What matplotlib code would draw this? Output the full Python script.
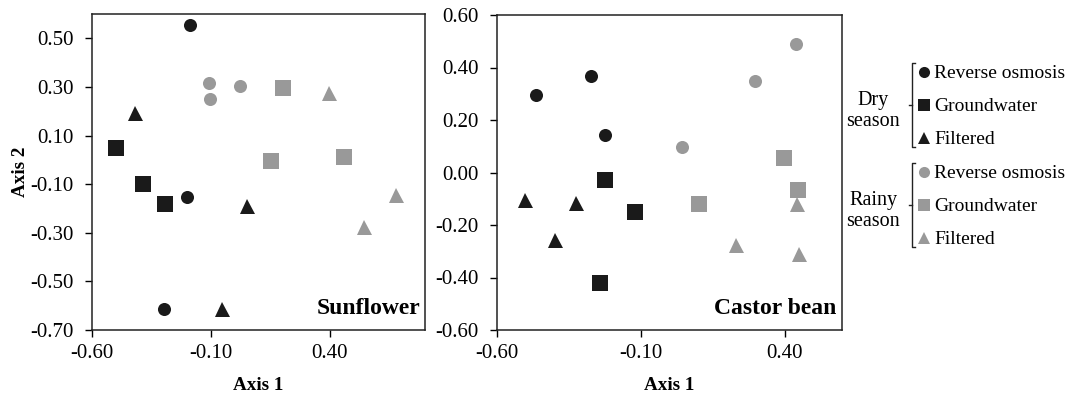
import matplotlib
matplotlib.use("Agg")
import matplotlib.pyplot as plt
from matplotlib.ticker import FormatStrFormatter

plt.rcParams['font.family'] = ['Liberation Serif', 'DejaVu Serif']

DARK = '#1a1a1a'
GREY = '#999999'

# Sunflower scores (Axis 1, Axis 2)
sun_dry_ro_x = [-0.187, -0.201, -0.297]
sun_dry_ro_y = [0.555, -0.154, -0.612]
sun_dry_gw_x = [-0.498, -0.386, -0.294]
sun_dry_gw_y = [0.047, -0.099, -0.182]
sun_dry_fi_x = [-0.421, 0.050, -0.053]
sun_dry_fi_y = [0.191, -0.189, -0.615]
sun_rain_ro_x = [-0.108, -0.105, 0.024]
sun_rain_ro_y = [0.318, 0.252, 0.305]
sun_rain_gw_x = [0.204, 0.151, 0.459]
sun_rain_gw_y = [0.296, -0.005, 0.013]
sun_rain_fi_x = [0.397, 0.677, 0.545]
sun_rain_fi_y = [0.276, -0.145, -0.275]

# Castor bean scores
cas_dry_ro_x = [-0.466, -0.272, -0.223]
cas_dry_ro_y = [0.297, 0.368, 0.142]
cas_dry_gw_x = [-0.225, -0.120, -0.242]
cas_dry_gw_y = [-0.027, -0.150, -0.422]
cas_dry_fi_x = [-0.501, -0.324, -0.399]
cas_dry_fi_y = [-0.106, -0.116, -0.256]
cas_rain_ro_x = [0.042, 0.298, 0.440]
cas_rain_ro_y = [0.099, 0.347, 0.488]
cas_rain_gw_x = [0.104, 0.398, 0.446]
cas_rain_gw_y = [-0.121, 0.054, -0.065]
cas_rain_fi_x = [0.232, 0.445, 0.452]
cas_rain_fi_y = [-0.275, -0.119, -0.309]

sun_xticks = [-0.60, -0.10, 0.40]
sun_yticks = [-0.70, -0.50, -0.30, -0.10, 0.10, 0.30, 0.50]
cas_xticks = [-0.60, -0.10, 0.40]
cas_yticks = [-0.60, -0.40, -0.20, 0.00, 0.20, 0.40, 0.60]

treatments = ['Reverse osmosis', 'Groundwater', 'Filtered']
markers = ['o', 's', '^']
sizes = [9.4, 11.5, 10.8]

fig = plt.figure(figsize=(10.7, 3.94), dpi=100)
ax1 = fig.add_axes([92/1070, 64/394, 333/1070, 316/394])
ax2 = fig.add_axes([497/1070, 64/394, 345/1070, 315/394])


def draw(ax, groups, xlim, ylim, xt, yt, name):
    for (x, y), m, s, c in groups:
        ax.plot(x, y, ls='none', marker=m, ms=s, color=c, mec=c, mew=0)
    ax.set_xlim(xlim)
    ax.set_ylim(ylim)
    ax.set_xticks(xt)
    ax.set_yticks(yt)
    ax.xaxis.set_major_formatter(FormatStrFormatter('%.2f'))
    ax.yaxis.set_major_formatter(FormatStrFormatter('%.2f'))
    ax.tick_params(direction='out', length=5, width=1, labelsize=15)
    ax.tick_params(axis='y', pad=8)
    ax.tick_params(axis='x', pad=5)
    for sp in ax.spines.values():
        sp.set_linewidth(1.1)
        sp.set_color('#222222')
    ax.set_xlabel('Axis 1', fontsize=13.8, fontweight='bold', labelpad=10)
    ax.text(0.985, 0.035, name, transform=ax.transAxes, ha='right', va='bottom',
            fontsize=17, fontweight='bold')


sun_groups = [
    ((sun_dry_ro_x, sun_dry_ro_y), 'o', sizes[0], DARK),
    ((sun_dry_gw_x, sun_dry_gw_y), 's', sizes[1], DARK),
    ((sun_dry_fi_x, sun_dry_fi_y), '^', sizes[2], DARK),
    ((sun_rain_ro_x, sun_rain_ro_y), 'o', sizes[0], GREY),
    ((sun_rain_gw_x, sun_rain_gw_y), 's', sizes[1], GREY),
    ((sun_rain_fi_x, sun_rain_fi_y), '^', sizes[2], GREY),
]
cas_groups = [
    ((cas_dry_ro_x, cas_dry_ro_y), 'o', sizes[0], DARK),
    ((cas_dry_gw_x, cas_dry_gw_y), 's', sizes[1], DARK),
    ((cas_dry_fi_x, cas_dry_fi_y), '^', sizes[2], DARK),
    ((cas_rain_ro_x, cas_rain_ro_y), 'o', sizes[0], GREY),
    ((cas_rain_gw_x, cas_rain_gw_y), 's', sizes[1], GREY),
    ((cas_rain_fi_x, cas_rain_fi_y), '^', sizes[2], GREY),
]

draw(ax1, sun_groups, (-0.6, 0.8), (-0.7, 0.6), sun_xticks, sun_yticks, 'Sunflower')
draw(ax2, cas_groups, (-0.6, 0.6), (-0.6, 0.6), cas_xticks, cas_yticks, 'Castor bean')
ax1.set_ylabel('Axis 2', fontsize=13.8, fontweight='bold', labelpad=1)

# legend drawn in pixel coordinates
lg = fig.add_axes([0, 0, 1, 1])
lg.set_xlim(0, 1070)
lg.set_ylim(394, 0)
lg.axis('off')

seasons = [('Dry\nseason', DARK, 105), ('Rainy\nseason', GREY, 205)]
for label, col, yc in seasons:
    lg.text(873, yc + 6, label, ha='center', va='center', fontsize=14.5,
            linespacing=1.15)
    top, bot = yc - 42, yc + 42
    lg.plot([915, 912, 912, 915], [top, top, bot, bot], color='#222222', lw=1)
    lg.plot([909, 912], [yc, yc], color='#222222', lw=1)
    for i, (t, m) in enumerate(zip(treatments, markers)):
        ry = yc - 33 + 33 * i
        lg.plot(924, ry, marker=m, ms=[8, 8.6, 8.2][i], color=col, mew=0)
        lg.text(934, ry + 1, t, ha='left', va='center', fontsize=14)

fig.savefig('out.png', dpi=100)
